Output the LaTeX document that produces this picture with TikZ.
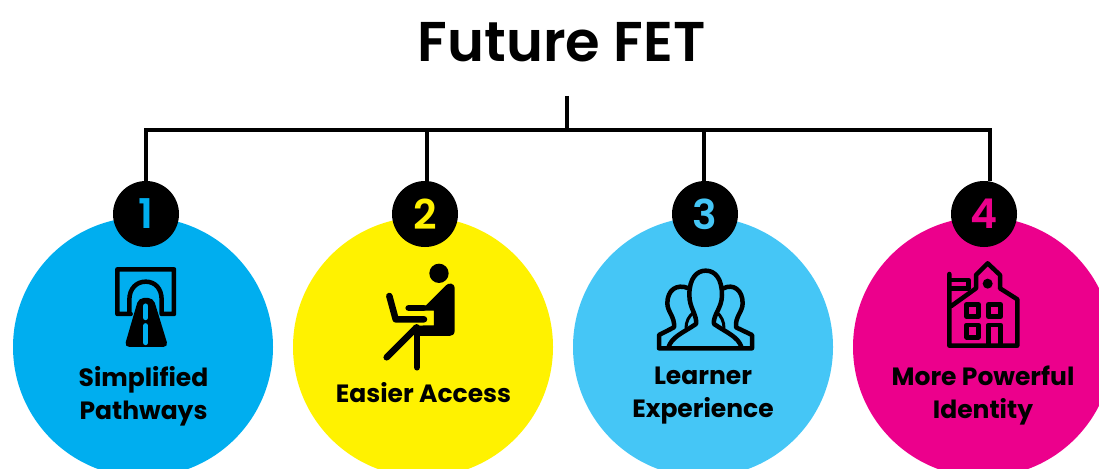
\documentclass[tikz,border=0pt]{standalone}
\usepackage{fontspec}
\setmainfont{Poppins}[BoldFont={Poppins SemiBold}]
\newfontfamily\heavyfont{Poppins Bold}
\definecolor{cone}{HTML}{00AEEF}
\definecolor{ctwo}{HTML}{FFF200}
\definecolor{cthree}{HTML}{45C6F6}
\definecolor{cfour}{HTML}{EC008C}
\tikzset{
  big/.style={circle,minimum size=260pt,inner sep=0pt,draw=none},
  badge/.style={circle,fill=black,minimum size=66pt,inner sep=0pt,font=\fontsize{41}{41}\selectfont\bfseries},
  lab/.style={align=center,font=\fontsize{25}{33}\selectfont\heavyfont,inner sep=0pt,text=black},
  wire/.style={line width=4.5pt,draw=black},
  ic/.style={line width=4.5pt,draw=black,line join=round,line cap=round},
  icon/.style={x=0.3333pt,y=-0.3333pt,shift={#1}}
}
\begin{document}
\begin{tikzpicture}[x=1pt,y=-1pt]
\useasboundingbox (0,0) rectangle (1099,468);
\begin{scope}
\clip (0,0) rectangle (1099,468);
\node[big,fill=cone] (c1) at (143,347) {};
\node[big,fill=ctwo] (c2) at (423,347) {};
\node[big,fill=cthree] (c3) at (703,347) {};
\node[big,fill=cfour] (c4) at (983,347) {};
\end{scope}
\node[inner sep=0pt,font=\fontsize{56}{56}\selectfont\bfseries] (title) at (561.5,42) {Future FET};
\coordinate (top) at (567,96);
\coordinate (mid) at (567,130);
\coordinate (j1) at (146,130);
\coordinate (j2) at (427,130);
\coordinate (j3) at (704,130);
\coordinate (j4) at (990,130);
\node[badge,text=cone] (b1) at (146,214) {1};
\node[badge,text=ctwo] (b2) at (425,214) {2};
\node[badge,text=cthree] (b3) at (705,214) {3};
\node[badge,text=cfour] (b4) at (984,214) {4};
\draw[wire] (top) -- (mid);
\draw[wire,line cap=rect] (j1) -- (j4);
\draw[wire] (j1) -- (j1 |- b1.north);
\draw[wire] (j2) -- (j2 |- b2.north);
\draw[wire] (j3) -- (j3 |- b3.north);
\draw[wire] (j4) -- (j4 |- b4.north);
\node[lab] (l1) at (143.5,396) {Simplified\\Pathways};
\node[lab] (l2) at (423.5,393) {Easier Access};
\node[lab] (l3) at (703,396) {Learner\\Experience};
\node[lab] (l4) at (983,396) {More Powerful\\Identity};
% icon 1
\begin{scope}[icon={(80pt,-180pt)}]
\draw[ic] (152,402) -- (112,402) -- (112,268) -- (282,268) -- (282,402) -- (245,402)
  -- (245,360) .. controls (245,325) and (225,305) .. (197,305) .. controls (170,305) and (148,325) .. (148,360) -- (148,402);
\fill[black,rounded corners=5pt] (133,501) -- (176,354) -- (220,354) -- (265,501) -- cycle;
\draw[cone,line width=5pt,line cap=round] (197,378) -- (197,413);
\draw[cone,line width=5pt,line cap=round] (197,437) -- (197,488);
\end{scope}
% icon 2
\begin{scope}[icon={(360pt,-180pt)}]
\fill[black] (237,280) circle[radius=29];
\fill[black] (258,316) .. controls (264,309) and (284,306) .. (284,326) -- (284,452) .. controls (284,464) and (276,468) .. (268,468)
  -- (178,468) -- (160,437) -- (222,436) -- (222,392) -- (180,392) -- (180,376) -- (198,376) -- cycle;
\draw[ic,line width=6.5pt] (146,384) -- (190,384);
\draw[ic,line width=6.5pt] (88,348) -- (107,418) -- (192,418);
\draw[ic,line width=6.5pt] (170,442) -- (80,532);
\draw[ic,line width=6.5pt] (171,445) -- (171,562);
\end{scope}
% icon 3
\begin{scope}[icon={(640pt,-180pt)}]
\draw[ic] (85,503) .. controls (95,470) and (130,458) .. (168,432) .. controls (172,405) and (148,385) .. (148,345)
  .. controls (148,295) and (170,272) .. (197,272) .. controls (225,272) and (246,295) .. (246,345) .. controls (246,385) and (218,405) .. (222,432) .. controls (260,458) and (295,470) .. (305,503);
\draw[ic] (146,325) .. controls (110,310) and (82,330) .. (82,370) .. controls (82,395) and (105,410) .. (102,442) -- (57,465) -- (57,505) -- (336,505) -- (336,465) -- (288,442) .. controls (285,410) and (308,395) .. (308,370) .. controls (308,330) and (280,310) .. (250,325);
\draw[ic,line width=3pt] (162,396) .. controls (145,410) and (138,425) .. (138,445);
\draw[ic,line width=3pt] (230,396) .. controls (245,410) and (252,425) .. (252,445);
\end{scope}
% icon 4
\begin{scope}[icon={(930pt,-180pt)}]
\draw[ic] (58,282) -- (58,497) -- (262,497) -- (262,358) -- (210,325) -- (210,285) -- (173,250) -- (138,285) -- (138,325) -- (64,378);
\draw[ic] (58,300) -- (115,300) -- (115,325) -- (58,325);
\fill[black] (173,311) circle[radius=15];
\draw[ic] (110,373) rectangle (145,410);
\draw[ic] (175,373) rectangle (212,410);
\draw[ic] (110,435) rectangle (145,472);
\draw[ic] (175,497) -- (175,435) -- (212,435) -- (212,497);
\end{scope}
\end{tikzpicture}
\end{document}
